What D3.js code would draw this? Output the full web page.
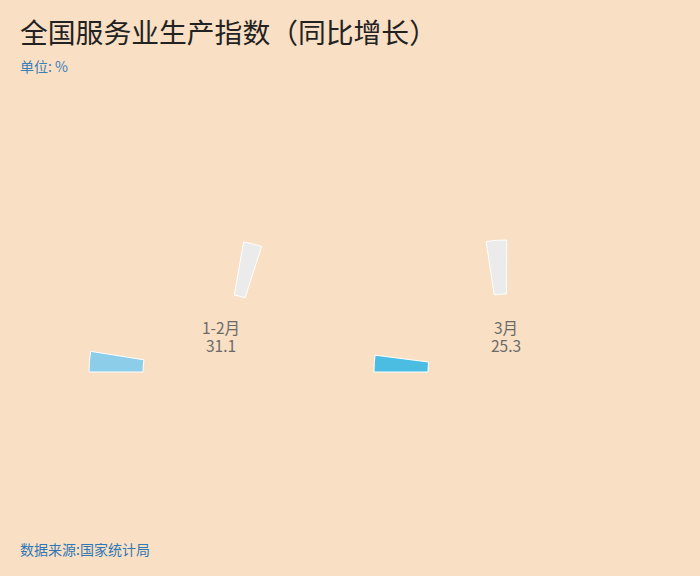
<!DOCTYPE html>
<html>
<head>
<meta charset="utf-8">
<script src="https://cdn.jsdelivr.net/npm/d3@7"></script>
<style>
  html, body { margin: 0; padding: 0; background: #f9dfc4; }
  svg { display: block; font-family: "Noto Sans CJK SC", "Noto Sans", sans-serif; }
</style>
</head>
<body>
<div id="chart"></div>
<script>
// Data
const categories = ['1-2月', '3月'];
const values = [31.1, 25.3];
// grey track pieces, in the same value units as the gauge
const trackStart = [345, 281];
const trackEnd = [373, 312];
const barColors = ['#8ccdea', '#4bbde3'];

const width = 700, height = 576;

const svg = d3.select('#chart')
  .append('svg')
  .attr('width', width)
  .attr('height', height)
  .style('background', '#f9dfc4');

// Title block
svg.append('text')
  .attr('x', 20).attr('y', 43)
  .attr('font-size', '27.8px')
  .attr('fill', '#222')
  .text('全国服务业生产指数（同比增长）');

svg.append('text')
  .attr('x', 20).attr('y', 72)
  .attr('font-size', '14px')
  .attr('fill', '#3a80b8')
  .text('单位: %');

svg.append('text')
  .attr('x', 20).attr('y', 555)
  .attr('font-size', '14px')
  .attr('fill', '#2f78b4')
  .text('数据来源:国家统计局');

// Gauges: one per category
const xCenter = d3.scalePoint().domain(categories).range([221, 506]);
const cy = 372;
const angle = d3.scaleLinear().domain([0, 622]).range([-Math.PI / 2, Math.PI / 2]);
const arc = d3.arc().innerRadius(78).outerRadius(132);

const gauge = svg.selectAll('g.gauge')
  .data(categories.map((c, i) => ({ name: c, value: values[i], t0: trackStart[i], t1: trackEnd[i], color: barColors[i] })))
  .enter().append('g')
  .attr('class', 'gauge')
  .attr('transform', d => `translate(${xCenter(d.name)},${cy})`);

// grey track piece
gauge.append('path')
  .attr('d', d => arc({ startAngle: angle(d.t0), endAngle: angle(d.t1) }))
  .attr('fill', '#ebebeb')
  .attr('stroke', '#fff')
  .attr('stroke-width', 1);

// value arc
gauge.append('path')
  .attr('d', d => arc({ startAngle: angle(0), endAngle: angle(d.value) }))
  .attr('fill', d => d.color)
  .attr('stroke', '#fff')
  .attr('stroke-width', 1);

// two-line label
const label = gauge.append('text')
  .attr('text-anchor', 'middle')
  .attr('font-size', '15.5px')
  .attr('fill', '#6a6a6a');
label.append('tspan')
  .attr('x', 0).attr('y', -38.5)
  .text(d => d.name);
label.append('tspan')
  .attr('x', 0).attr('y', -20.5)
  .text(d => d.value.toFixed(1));
</script>
</body>
</html>
